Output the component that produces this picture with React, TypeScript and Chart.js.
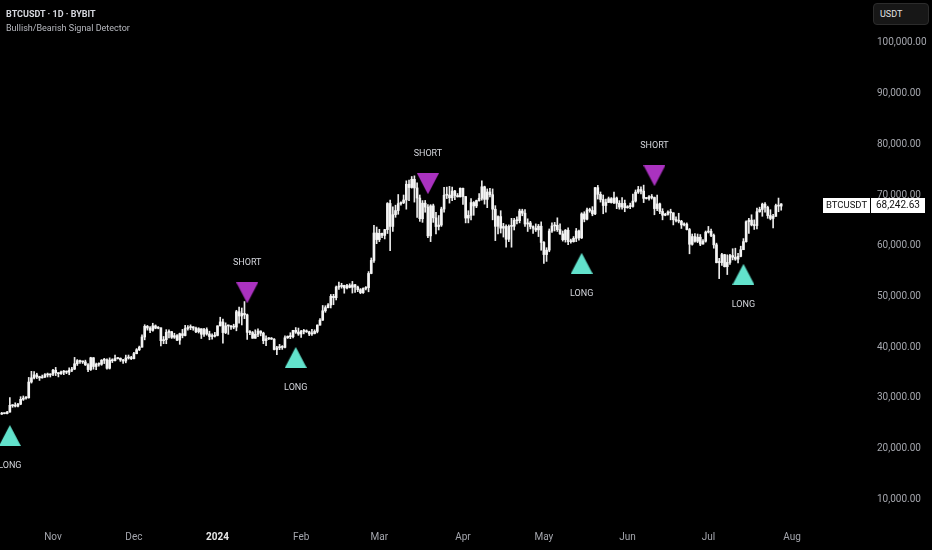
import React, { useEffect, useRef } from 'react';
import { Chart, registerables } from 'chart.js';

Chart.register(...registerables);

// ---- Data (BTCUSDT daily, from 2023-10-13 to 2024-07-28) ----
const START_DATE = '2023-10-13';
const FIRST_OPEN = 26760;

const closes = [
  // Oct 13-31
  26860, 26860, 27160, 28500, 28410, 28330, 28720, 29680, 29920, 29990, 33090, 33920, 34500, 34160, 33910, 34090, 34540, 34490, 34640,
  // Nov
  35420, 34940, 34730, 35080, 35050, 35040, 35420, 35640, 36700, 37310, 37130, 37060, 36490, 35550, 37880, 36160, 36590, 36590, 37390, 37480, 35810, 37420, 37290, 37720, 37790, 37450, 37240, 37830, 37860, 37710,
  // Dec
  38690, 39460, 39970, 41980, 44080, 43750, 43290, 44170, 43720, 43790, 41240, 41450, 42890, 43020, 41930, 42240, 41360, 42620, 42270, 43650, 43850, 43990, 43740, 43010, 43610, 42520, 43440, 42580, 42070, 42140, 42280,
  // Jan
  44180, 44950, 42850, 44180, 44160, 43970, 43930, 46970, 46120, 46630, 46350, 42890, 42850, 41730, 42510, 43150, 42740, 41260, 41620, 41660, 41550, 39510, 39850, 40080, 39930, 41820, 42120, 42030, 43300, 42940, 42580,
  // Feb
  43080, 43190, 42990, 42580, 42660, 43080, 44320, 45300, 47150, 47770, 48290, 50000, 49740, 51830, 51940, 52160, 51660, 52120, 51780, 52280, 51840, 51320, 50730, 51570, 51730, 54520, 57090, 62500, 61200,
  // Mar
  62440, 62030, 63170, 68330, 63800, 66110, 66930, 68300, 68500, 69020, 72120, 71480, 73100, 71400, 69400, 65320, 68390, 67610, 61940, 67860, 65490, 63780, 64070, 67230, 69960, 69990, 69450, 70780, 69890, 69640, 71330,
  // Apr
  69700, 65450, 65980, 68510, 67840, 68900, 69360, 71620, 69140, 70590, 70060, 67200, 63820, 65740, 63450, 63790, 61270, 63810, 63840, 64990, 64930, 66840, 66410, 64280, 64500, 63770, 63460, 63120, 63840, 60640,
  // May
  58250, 59120, 62890, 63890, 64030, 63160, 62330, 61190, 63050, 60790, 60790, 61450, 62900, 61550, 66270, 65230, 67050, 66940, 66280, 71450, 70140, 69120, 67930, 68530, 69270, 68510, 69400, 68370, 67630, 68340, 67490,
  // Jun
  67710, 67750, 68800, 70570, 71080, 70760, 69340, 69310, 69650, 69510, 67320, 68240, 66760, 66010, 66190, 66640, 66490, 65140, 64960, 64830, 64100, 64250, 63180, 60280, 61800, 60860, 61670, 60320, 60890, 62680,
  // Jul 1-28
  62850, 62030, 60170, 56660, 56660, 58230, 55850, 56700, 58050, 57720, 57340, 57890, 59200, 60800, 64720, 65040, 64090, 63970, 66700, 67150, 68190, 67550, 65940, 65370, 65780, 67910, 67810, 68242.63,
];

const highs = [
  27100, 26970, 27290, 30000, 28620, 28990, 28910, 30200, 30340, 30230, 34000, 35200, 35130, 34830, 34240, 34470, 34740, 34860, 34720,
  35580, 35980, 34950, 35270, 35380, 35280, 35890, 35980, 37950, 37520, 37400, 37230, 37410, 36750, 37980, 37920, 36840, 36860, 37520, 37760, 37660, 37860, 37680, 38430, 37910, 37840, 37570, 38400, 38420, 38170,
  38970, 39690, 40180, 42400, 44400, 44260, 44020, 44690, 44360, 44030, 43800, 42080, 43430, 43390, 43080, 42720, 42430, 42740, 43480, 44280, 44220, 44370, 44020, 43940, 43810, 43600, 43680, 43790, 43120, 42590, 42890,
  44190, 45880, 45500, 44770, 44330, 44230, 44500, 47250, 47890, 47700, 48970, 46500, 43250, 43070, 43400, 43580, 43200, 42930, 42200, 41870, 41880, 41660, 40130, 40520, 40280, 42200, 42190, 42820, 43310, 43840, 43740,
  43290, 43480, 43380, 43120, 43490, 43400, 44380, 45600, 48200, 48150, 48580, 50370, 50400, 52040, 52820, 52580, 52200, 52390, 52480, 52950, 52370, 52020, 51540, 51690, 51950, 54890, 57570, 64000, 63680,
  63230, 62500, 63230, 68500, 69000, 67650, 67990, 70100, 68670, 70000, 72800, 72950, 73650, 73780, 72400, 70000, 68900, 68930, 68100, 68100, 68200, 66600, 65950, 67600, 71500, 71560, 71700, 71550, 70900, 70300, 71400,
  71350, 69700, 66900, 69300, 68700, 69000, 70300, 72800, 71750, 71200, 71300, 71200, 67900, 65900, 66900, 64400, 64100, 64100, 65400, 65400, 65700, 67200, 67200, 67100, 65300, 64800, 63900, 64300, 64200, 64700,
  60800, 59600, 63300, 64500, 64600, 65500, 64300, 62900, 63200, 63500, 61300, 61800, 63400, 63100, 66500, 66700, 67400, 67400, 67700, 71500, 71900, 70600, 70000, 69200, 69600, 69500, 70600, 69600, 68900, 69500, 69000,
  67900, 68400, 70200, 71000, 71700, 71600, 71950, 69500, 69900, 70100, 69600, 70000, 68400, 67300, 66400, 66900, 67200, 66500, 65700, 66400, 65000, 64500, 64500, 63400, 62300, 62400, 62300, 62200, 61200, 62900,
  63800, 63300, 62300, 60500, 57500, 58500, 58300, 58200, 58300, 59400, 59500, 58500, 59900, 61400, 64900, 65400, 66100, 65100, 67400, 67600, 68400, 68500, 67800, 67100, 66200, 68200, 69400, 68300,
];

const lows = [
  26690, 26810, 26820, 27120, 28100, 28160, 28180, 28610, 29460, 29690, 29900, 32880, 33690, 33780, 33400, 33860, 33950, 34080, 34080,
  34330, 34360, 34100, 34590, 34540, 34740, 34530, 35110, 35550, 36360, 36750, 36750, 36350, 35120, 35370, 35620, 35540, 36200, 36390, 36730, 35650, 35660, 36930, 37250, 37620, 37160, 36750, 36880, 37610, 37520,
  37630, 38650, 39290, 39960, 41420, 43330, 42830, 43120, 43600, 43590, 40230, 40660, 40650, 41790, 41690, 41690, 41250, 40530, 41810, 42200, 43330, 43420, 43300, 42810, 42760, 41680, 42110, 42330, 41430, 41540, 41970,
  42190, 44150, 40750, 42640, 42500, 43450, 43600, 43200, 44700, 44350, 45600, 41500, 42450, 41720, 41720, 42050, 42200, 40650, 40280, 41460, 41500, 39440, 38500, 39480, 39530, 39820, 41690, 41650, 41800, 42690, 42300,
  41880, 42600, 42880, 42250, 42280, 42580, 42790, 44330, 45250, 46850, 47700, 47710, 48350, 49290, 51360, 51610, 50620, 51460, 51670, 50650, 50790, 50920, 50520, 50590, 51290, 50900, 54450, 56700, 60400,
  60800, 61600, 61330, 62400, 59000, 62800, 65600, 66200, 68000, 68300, 67200, 68900, 71350, 68600, 65600, 64800, 64600, 66600, 61600, 60800, 64600, 62300, 63100, 63800, 66600, 69300, 68400, 68900, 69100, 69600, 69600,
  68150, 64500, 64500, 65100, 66000, 67500, 68800, 69000, 68200, 67500, 69600, 65100, 61000, 62300, 62500, 61700, 59700, 60800, 59700, 63100, 64300, 64500, 65900, 63800, 62800, 63300, 62400, 62800, 61800, 59100,
  56500, 56900, 58800, 62600, 62900, 62800, 62200, 60900, 60700, 60200, 60500, 60700, 60800, 61100, 61400, 64700, 65100, 66600, 65900, 66100, 69200, 68600, 66300, 66600, 68500, 68400, 68300, 67300, 67200, 67200, 66700,
  67400, 67300, 67600, 68600, 70300, 70200, 68500, 69200, 69000, 69200, 66100, 66900, 66300, 65100, 65900, 66000, 65100, 64100, 64700, 64500, 63400, 63900, 63100, 58400, 60100, 60700, 60600, 60000, 60300, 60700,
  62500, 61800, 59500, 56600, 53500, 56100, 55800, 54300, 56300, 57200, 57100, 56600, 57800, 59300, 60700, 62400, 63900, 63200, 63300, 66600, 65800, 66600, 65400, 65100, 63500, 65800, 66700, 67000,
];

const monthTickDates = ['2023-11-01', '2023-12-01', '2024-01-01', '2024-02-01', '2024-03-01', '2024-04-01', '2024-05-01', '2024-06-01', '2024-07-01', '2024-08-01'];
const monthTickLabels = ['Nov', 'Dec', '2024', 'Feb', 'Mar', 'Apr', 'May', 'Jun', 'Jul', 'Aug'];
const priceTicks = [10000, 20000, 30000, 40000, 50000, 60000, 70000, 80000, 90000, 100000];

const signalDates = ['2023-10-16', '2024-01-12', '2024-01-30', '2024-03-19', '2024-05-15', '2024-06-11', '2024-07-14'];
const signalPrices = [22530, 50690, 37950, 72230, 56520, 73810, 54350];
const signalTypes = ['LONG', 'SHORT', 'LONG', 'SHORT', 'LONG', 'SHORT', 'LONG'];

const SYMBOL = 'BTCUSDT';
const TITLE = 'BTCUSDT · 1D · BYBIT';
const SUBTITLE = 'Bullish/Bearish Signal Detector';
const CURRENCY = 'USDT';

// ---- helpers ----
const EPOCH = Date.UTC(2023, 10, 1);
const dayOf = (s: string) => {
  const [y, m, d] = s.split('-').map(Number);
  return (Date.UTC(y, m - 1, d) - EPOCH) / 864e5;
};
const fmtPrice = (v: number) =>
  v.toLocaleString('en-US', { minimumFractionDigits: 2, maximumFractionDigits: 2 });

const FONT = 'Roboto, "Noto Sans", sans-serif';
const TEAL = '#62e2cc';
const PURPLE = '#aa32c0';

export default function App() {
  const ref = useRef<HTMLCanvasElement>(null);

  useEffect(() => {
    document.body.style.margin = '0';
    document.body.style.background = '#000';

    const makeTri = (color: string, up: boolean) => {
      const c = document.createElement('canvas');
      c.width = 22;
      c.height = 21;
      const g = c.getContext('2d')!;
      g.fillStyle = color;
      g.beginPath();
      if (up) {
        g.moveTo(11, 0);
        g.lineTo(22, 21);
        g.lineTo(0, 21);
      } else {
        g.moveTo(0, 0);
        g.lineTo(22, 0);
        g.lineTo(11, 21);
      }
      g.closePath();
      g.fill();
      return c;
    };
    const upTri = makeTri(TEAL, true);
    const downTri = makeTri(PURPLE, false);

    const startDay = dayOf(START_DATE);
    const opens = closes.map((c, i) => (i === 0 ? FIRST_OPEN : closes[i - 1]));

    const wickData = closes.map((c, i) => ({ x: startDay + i, y: [lows[i], highs[i]] }));
    const bodyData = closes.map((c, i) => ({ x: startDay + i, y: [opens[i], c] }));
    const signalData = signalDates.map((d, i) => ({ x: dayOf(d), y: signalPrices[i] }));

    const tickDays = monthTickDates.map(dayOf);
    const pxPerDay = (792 - 53) / (dayOf('2024-08-01') - dayOf('2023-11-01'));

    const overlay = {
      id: 'overlay',
      afterDatasetsDraw(chart: any) {
        const ctx = chart.ctx;
        const meta = chart.getDatasetMeta(2);
        ctx.save();
        ctx.font = `9px ${FONT}`;
        ctx.fillStyle = '#d4d6dc';
        ctx.textAlign = 'center';
        ctx.textBaseline = 'middle';
        meta.data.forEach((pt: any, i: number) => {
          const t = signalTypes[i];
          ctx.fillText(t, pt.x, pt.y + (t === 'LONG' ? 30 : -30));
        });
        ctx.restore();
      },
      afterDraw(chart: any) {
        const ctx = chart.ctx;
        const last = closes[closes.length - 1];
        const y = Math.round(chart.scales.y.getPixelForValue(last)) + 1;
        ctx.save();
        ctx.fillStyle = '#ffffff';
        ctx.fillRect(823, y - 7, 47, 15);
        ctx.fillRect(871, y - 7, 54, 15);
        ctx.fillStyle = '#111111';
        ctx.textBaseline = 'middle';
        ctx.font = `9.5px ${FONT}`;
        ctx.textAlign = 'center';
        ctx.fillText(SYMBOL, 846.5, y + 0.5);
        ctx.font = `10px ${FONT}`;
        ctx.textAlign = 'left';
        ctx.fillText(fmtPrice(last), 876, y + 0.5);
        ctx.restore();
      },
    };

    const chart = new Chart(ref.current!, {
      type: 'bar',
      data: {
        datasets: [
          {
            type: 'bar',
            label: 'wick',
            data: wickData as any,
            backgroundColor: '#eaeaea',
            barThickness: 1,
            grouped: false,
            order: 3,
          } as any,
          {
            type: 'bar',
            label: 'body',
            data: bodyData as any,
            backgroundColor: '#f4f4f4',
            borderWidth: 0,
            borderSkipped: false,
            barThickness: 2,
            minBarLength: 1,
            grouped: false,
            order: 2,
          } as any,
          {
            type: 'scatter',
            label: 'signals',
            data: signalData,
            pointStyle: signalTypes.map((t) => (t === 'LONG' ? upTri : downTri)),
            pointRadius: 11,
            clip: false,
            order: 1,
          } as any,
        ],
      },
      options: {
        animation: false,
        responsive: true,
        maintainAspectRatio: false,
        events: [],
        layout: { padding: 0, autoPadding: false },
        plugins: { legend: { display: false }, tooltip: { enabled: false } },
        scales: {
          x: {
            type: 'linear',
            offset: false,
            min: -53 / pxPerDay,
            max: (870 - 53) / pxPerDay,
            grid: { display: false, drawTicks: false },
            border: { display: false },
            afterBuildTicks: (s: any) => {
              s.ticks = tickDays.map((v) => ({ value: v }));
            },
            afterFit: (s: any) => {
              s.height = 25;
              s.paddingLeft = 0;
              s.paddingRight = 0;
            },
            ticks: {
              autoSkip: false,
              maxRotation: 0,
              padding: 6,
              callback: (v: any) => {
                const idx = tickDays.indexOf(Number(v));
                return idx >= 0 ? monthTickLabels[idx] : '';
              },
              color: (c: any) => (c.tick && c.tick.label === '2024' ? '#e6e6e6' : '#a4a6ad'),
              font: (c: any) => ({
                family: FONT,
                size: 10,
                weight: c.tick && c.tick.label === '2024' ? 'bold' : 'normal',
              }),
            },
          } as any,
          y: {
            type: 'linear',
            position: 'right',
            min: 4874,
            max: 108486,
            grid: { display: false, drawTicks: false },
            border: { display: false },
            afterBuildTicks: (s: any) => {
              s.ticks = priceTicks.map((v) => ({ value: v }));
            },
            afterFit: (s: any) => {
              s.width = 62;
              s.paddingTop = 0;
              s.paddingBottom = 0;
            },
            ticks: {
              padding: 7,
              color: '#a4a6ad',
              font: { family: FONT, size: 10 },
              callback: (v: any) => fmtPrice(Number(v)),
            },
          } as any,
        },
      },
      plugins: [overlay],
    });

    return () => chart.destroy();
  }, []);

  return (
    <div style={{ position: 'relative', width: 932, height: 550, background: '#000', overflow: 'hidden' }}>
      <canvas ref={ref} />
      <div
        style={{
          position: 'absolute',
          left: 6,
          top: 8,
          fontFamily: FONT,
          fontSize: 9,
          lineHeight: '12px',
          color: '#d6d8de',
          fontWeight: 'bold',
          whiteSpace: 'nowrap',
        }}
      >
        {TITLE}
      </div>
      <div
        style={{
          position: 'absolute',
          left: 6,
          top: 22,
          fontFamily: FONT,
          fontSize: 9,
          lineHeight: '12px',
          color: '#b8bac0',
          whiteSpace: 'nowrap',
        }}
      >
        {SUBTITLE}
      </div>
      <div
        style={{
          position: 'absolute',
          left: 873,
          top: 3,
          width: 56,
          height: 22,
          boxSizing: 'border-box',
          background: '#171717',
          border: '1px solid #2c2c2c',
          borderRadius: 4,
          fontFamily: FONT,
          fontSize: 9,
          lineHeight: '20px',
          paddingLeft: 6,
          color: '#e4e4e4',
        }}
      >
        {CURRENCY}
      </div>
    </div>
  );
}
